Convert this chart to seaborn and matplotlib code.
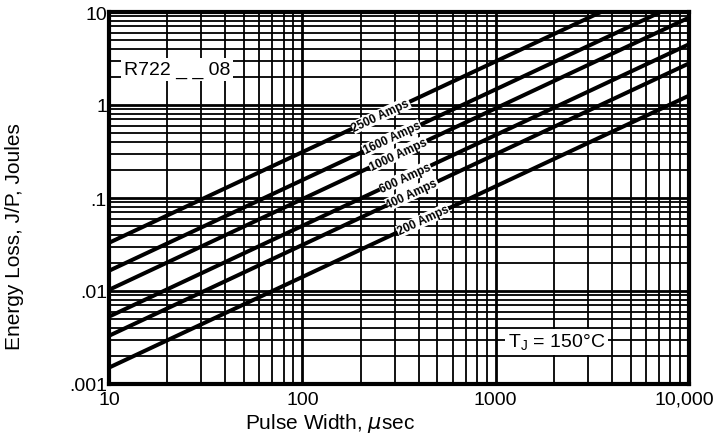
import numpy as np
import pandas as pd
import seaborn as sns
import matplotlib
matplotlib.use("Agg")
import matplotlib.pyplot as plt
import matplotlib.transforms as mtransforms
from matplotlib.ticker import FixedLocator, NullFormatter, LogLocator

# ---- data ----
series = ["2500 Amps", "1600 Amps", "1000 Amps", "600 Amps", "400 Amps", "200 Amps"]
pulse_width = [10, 10000]                      # usec (line endpoints)
energy_2500 = [0.033, 27.8]
energy_1600 = [0.0165, 13.9]
energy_1000 = [0.0103, 8.7]
energy_600 = [0.0053, 4.5]
energy_400 = [0.0033, 2.8]
energy_200 = [0.0015, 1.26]
label_x = [255, 291, 313, 340, 369, 421]        # where the rotated labels sit

x_ticks = [10, 100, 1000, 10000]
x_tick_labels = ["10", "100", "1000", "10,000"]
y_ticks = [0.001, 0.01, 0.1, 1, 10]
y_tick_labels = [".001", ".01", ".1", "1", "10"]

energies = [energy_2500, energy_1600, energy_1000, energy_600, energy_400, energy_200]
rows = []
for name, e in zip(series, energies):
    for x, y in zip(pulse_width, e):
        rows.append({"Pulse Width": x, "Energy": y, "Series": name})
df = pd.DataFrame(rows)

sns.set_style("white")
plt.rcParams["font.family"] = ["Liberation Sans", "DejaVu Sans"]

fig = plt.figure(figsize=(7.13, 4.39), dpi=100)
ax = fig.add_axes([109 / 713, 1 - 385 / 439, 580 / 713, 372 / 439])

sns.lineplot(data=df, x="Pulse Width", y="Energy", hue="Series",
             palette=["black"] * len(series), linewidth=2.9, legend=False,
             ax=ax, zorder=3)

ax.set_xscale("log")
ax.set_yscale("log")
ax.set_xlim(10, 10000)
ax.set_ylim(0.001, 10)

ax.xaxis.set_major_locator(FixedLocator(x_ticks))
ax.set_xticklabels(x_tick_labels)
ax.yaxis.set_major_locator(FixedLocator(y_ticks))
ax.set_yticklabels(y_tick_labels)
ax.xaxis.set_minor_locator(LogLocator(base=10, subs=np.arange(2, 10)))
ax.yaxis.set_minor_locator(LogLocator(base=10, subs=np.arange(2, 10)))
ax.xaxis.set_minor_formatter(NullFormatter())
ax.yaxis.set_minor_formatter(NullFormatter())

ax.grid(True, which="major", color="black", linewidth=2.0, zorder=1)
ax.grid(True, which="minor", color="black", linewidth=1.3, zorder=1)
ax.set_axisbelow(True)
ax.tick_params(axis="both", which="both", length=0, labelsize=14)
ax.tick_params(axis="y", pad=1.5)
ax.tick_params(axis="x", pad=5)
for lab in ax.get_xticklabels() + ax.get_yticklabels():
    lab.set_color("black")
# keep the last x label inside the image
last = ax.get_xticklabels()[-1]
last.set_transform(last.get_transform() +
                   mtransforms.ScaledTranslation(-5 / 100, 0, fig.dpi_scale_trans))
for s in ax.spines.values():
    s.set_color("black")
    s.set_linewidth(3.0)

ax.set_xlabel("Pulse Width, $\\mu$sec", fontsize=15, color="black")
ax.set_ylabel("Energy Loss, J/P, Joules", fontsize=15, color="black")
ax.xaxis.set_label_coords((330 - 109) / 580, -0.072)
ax.yaxis.set_label_coords(-0.147, (385 - 237) / 372)

# rotated line labels sitting on each line
for name, e, lx in zip(series, energies, label_x):
    lx0, lx1 = np.log10(pulse_width)
    ly0, ly1 = np.log10(e)
    ly = ly0 + (ly1 - ly0) * (np.log10(lx) - lx0) / (lx1 - lx0)
    ax.text(lx, 10 ** ly, name, rotation=25, rotation_mode="anchor",
            ha="center", va="center", fontsize=8.5, fontweight="bold",
            color="black", zorder=5,
            bbox=dict(facecolor="white", edgecolor="none", pad=0.3))

ax.text(0.117, 0.845, "R722 _ _ 08", transform=ax.transAxes, ha="center",
        va="center", fontsize=14, color="black", zorder=5,
        bbox=dict(facecolor="white", edgecolor="none", pad=2.0))
ax.text(0.771, 0.113, "T$_{\\mathregular{J}}$ = 150°C", transform=ax.transAxes,
        ha="center", va="center", fontsize=14, color="black", zorder=5,
        bbox=dict(facecolor="white", edgecolor="none", pad=2.0))

fig.savefig("out.png", dpi=100, facecolor="white")
